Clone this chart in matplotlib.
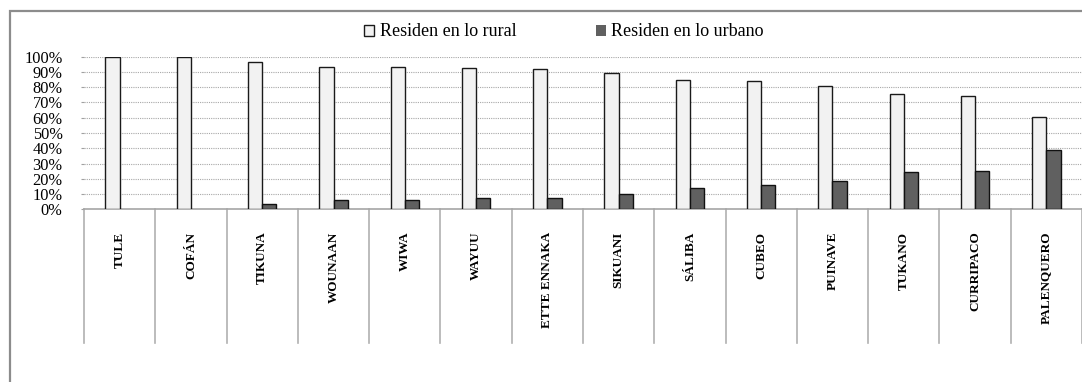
import matplotlib
matplotlib.use("Agg")
import matplotlib.pyplot as plt
from matplotlib.patches import Rectangle
from matplotlib.ticker import FixedLocator
import numpy as np

pueblos = ["TULE", "COFÁN", "TIKUNA", "WOUNAAN", "WIWA", "WAYUU", "ETTE ENNAKA",
           "SIKUANI", "SÁLIBA", "CUBEO", "PUINAVE", "TUKANO", "CURRIPACO", "PALENQUERO"]
rural = [100.0, 100.0, 96.6, 93.5, 93.5, 92.4, 91.8, 89.3, 84.9, 84.1, 80.8, 75.8, 74.0, 60.8]
urbano = [0.0, 0.0, 3.4, 5.9, 5.9, 7.6, 7.6, 10.2, 14.2, 15.9, 18.5, 24.4, 25.3, 38.7]
serie_labels = ["Residen en lo rural", "Residen en lo urbano"]
yticks = list(range(0, 101, 10))

serif = ["Liberation Serif", "DejaVu Serif"]
plt.rcParams["font.family"] = serif

W, H = 1082, 382
fig = plt.figure(figsize=(W / 100, H / 100), dpi=100)
ax = fig.add_axes([84 / W, (H - 209.3) / H, 1 - 84 / W, (209.3 - 56.7) / H])

x = np.arange(len(pueblos))
bw = 0.2
b1 = ax.bar(x - bw / 2, rural, bw, color="#f2f2f2", edgecolor="#1a1a1a",
            linewidth=1.0, zorder=3, label=serie_labels[0])
b2 = ax.bar(x + bw / 2, urbano, bw, color="#606060", edgecolor="#111111",
            linewidth=1.0, zorder=3, label=serie_labels[1])
# empty bars leave no outline on the baseline
for bar, v in zip(b2.patches, urbano):
    if v == 0:
        bar.set_linewidth(0)

ax.set_xlim(-0.5, len(pueblos) - 0.5)
ax.set_ylim(0, 100)
ax.yaxis.set_major_locator(FixedLocator(yticks))
ax.set_yticklabels([f"{v}%" for v in yticks], fontsize=11.8)
ax.tick_params(axis="y", length=2.5, color="#a0a0a0", pad=13)
ax.set_xticks([])
ax.grid(axis="y", linestyle=(0, (1, 1)), color="#a8a8a8", linewidth=0.8, zorder=0)
for s in ["top", "right", "left"]:
    ax.spines[s].set_visible(False)
ax.spines["bottom"].set_color("#a6a6a6")
ax.spines["bottom"].set_linewidth(1.2)

# category separators and vertical names below the axis
trans = ax.get_xaxis_transform()
for i in range(len(pueblos) + 1):
    ax.plot([i - 0.5, i - 0.5], [0, -0.878], transform=trans, color="#b0b0b0",
            linewidth=1.2, clip_on=False, zorder=1)
for i, name in enumerate(pueblos):
    ax.text(i, -0.147, name, transform=trans, rotation=90, ha="center", va="top",
            fontsize=9.5, fontweight="bold", family=serif)

fig.legend(handles=[b1, b2], labels=serie_labels, loc="center",
           bbox_to_anchor=(564 / W, (H - 32) / H), ncol=2, frameon=False,
           fontsize=13, handlelength=0.55, handleheight=0.55, handletextpad=0.3,
           columnspacing=4.4, borderpad=0, borderaxespad=0)

fig.patches.append(Rectangle((10 / W, -0.2), 1.2, (H - 11) / H + 0.2,
                             transform=fig.transFigure, fill=False,
                             edgecolor="#8c8c8c", linewidth=1.6))

fig.savefig("out.png", dpi=100)
